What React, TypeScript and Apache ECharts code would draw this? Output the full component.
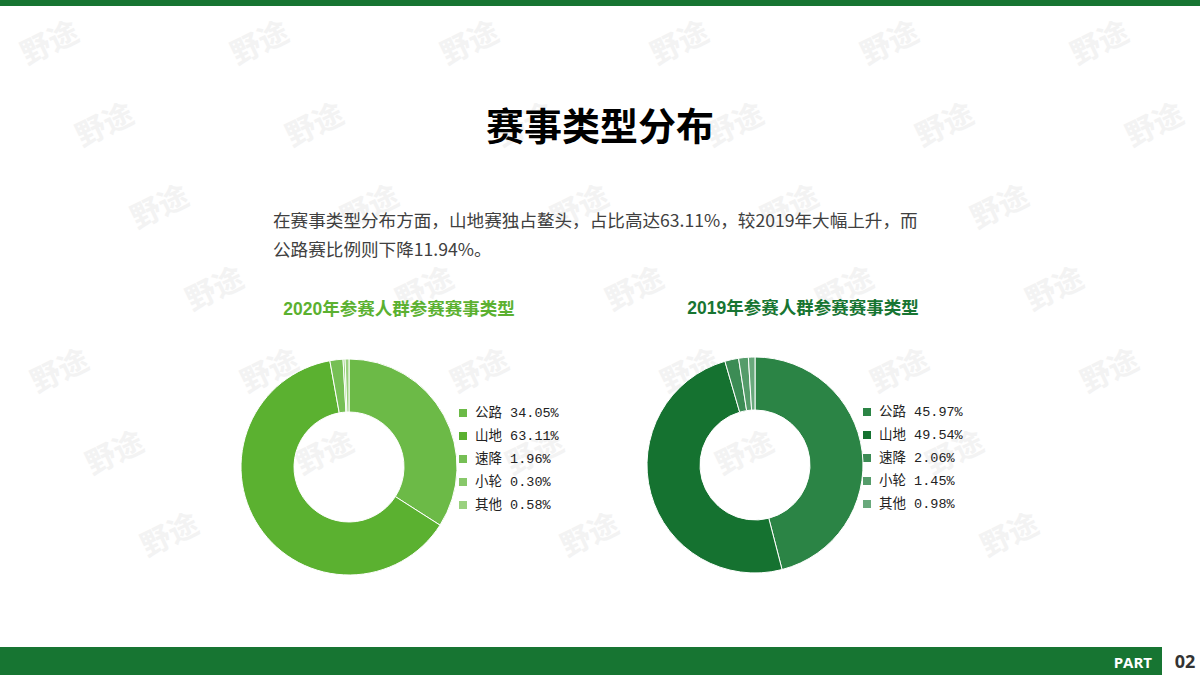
import React, { useEffect, useRef } from "react";
import * as echarts from "echarts";

const categories = ["公路", "山地", "速降", "小轮", "其他"];
const values2020 = [34.05, 63.11, 1.96, 0.3, 0.58];
const values2019 = [45.97, 49.54, 2.06, 1.45, 0.98];
const colors2020 = ["#6cba47", "#5bb130", "#76bf55", "#88c86a", "#9ad17f"];
const colors2019 = ["#2b8445", "#157230", "#3c8c55", "#559c6a", "#69a97c"];
const title = "赛事类型分布";
const subtitle2020 = "2020年参赛人群参赛赛事类型";
const subtitle2019 = "2019年参赛人群参赛赛事类型";
const paragraph = [
  "在赛事类型分布方面，山地赛独占鳌头，占比高达63.11%，较2019年大幅上升，而",
  "公路赛比例则下降11.94%。",
];

export default function App() {
  const ref = useRef<HTMLDivElement>(null);
  useEffect(() => {
    document.body.style.margin = "0";
    const chart = echarts.init(ref.current!, null, { renderer: "svg" });
    const data20 = categories.map((c, i) => ({ name: c, value: values2020[i], itemStyle: { color: colors2020[i] } }));
    const data19 = categories.map((c, i) => ({ name: c + " ", value: values2019[i], itemStyle: { color: colors2019[i] } }));
    const fmt = (vals: number[]) => (name: string) => {
      const idx = categories.indexOf(name.trim());
      return name.trim() + " " + vals[idx].toFixed(2) + "%";
    };

    const watermarks: any[] = [];
    for (let r = 0; r < 8; r++) {
      for (let c = -1; c < 7; c++) {
        const x = c * 210 + ((r * 55) % 210) + 15;
        const y = r * 82 + 40;
        if (x < 5 || x > 1120 || y > 610) continue;
        watermarks.push({
          type: "text",
          x,
          y,
          rotation: 0.45,
          z: 0,
          silent: true,
          style: { text: "野途", fill: "#f3f3f3", font: "bold 30px 'Noto Sans CJK SC'" },
        });
      }
    }

    const legendBase = {
      orient: "vertical",
      icon: "rect",
      itemWidth: 10,
      itemHeight: 10,
      itemGap: 9,
      selectedMode: false,
      padding: 0,
      textStyle: {
        fontFamily: "'Liberation Mono', 'Noto Sans CJK SC'",
        fontSize: 13.5,
        lineHeight: 14,
        color: "#222",
        padding: [0, 0, 0, 2],
      },
    };

    chart.setOption({
      animation: false,
      backgroundColor: "#fff",
      graphic: [
        ...watermarks,
        { type: "rect", shape: { x: 0, y: 0, width: 1200, height: 6 }, style: { fill: "#177532" }, z: 10 },
        { type: "rect", shape: { x: 0, y: 647, width: 1162, height: 28 }, style: { fill: "#177532" }, z: 10 },
        {
          type: "text", x: 1152, y: 662, z: 11,
          style: { text: "PART", fill: "#fff", font: "bold 15px 'Open Sans', sans-serif", align: "right", verticalAlign: "middle" },
        },
        {
          type: "text", x: 1185, y: 661, z: 11,
          style: { text: "02", fill: "#333", font: "bold 18px 'Open Sans', sans-serif", align: "center", verticalAlign: "middle" },
        },
        {
          type: "text", x: 600, y: 123, z: 11,
          style: { text: title, fill: "#000", font: "bold 38px 'Noto Sans CJK SC'", align: "center", verticalAlign: "middle" },
        },
        ...paragraph.map((t, i) => ({
          type: "text", x: 273, y: 219 + i * 29, z: 11,
          style: { text: t, fill: "#404040", font: "17.6px 'Noto Sans CJK SC'", align: "left", verticalAlign: "middle" },
        })),
        {
          type: "text", x: 399, y: 309, z: 11,
          style: { text: subtitle2020, fill: "#5bb130", font: "bold 17.5px 'Liberation Sans', 'Noto Sans CJK SC'", align: "center", verticalAlign: "middle" },
        },
        {
          type: "text", x: 803, y: 308, z: 11,
          style: { text: subtitle2019, fill: "#177532", font: "bold 17.5px 'Liberation Sans', 'Noto Sans CJK SC'", align: "center", verticalAlign: "middle" },
        },
      ],
      legend: [
        { ...legendBase, left: 457, top: 406, data: categories, formatter: fmt(values2020) },
        { ...legendBase, left: 861, top: 405, data: categories.map((c) => c + " "), formatter: fmt(values2019) },
      ],
      series: [
        {
          type: "pie",
          radius: [55, 108],
          center: [349, 467],
          startAngle: 90,
          label: { show: false },
          labelLine: { show: false },
          emphasis: { disabled: true },
          itemStyle: { borderColor: "#fff", borderWidth: 1 },
          data: data20,
          z: 5,
        },
        {
          type: "pie",
          radius: [55, 108],
          center: [755, 465],
          startAngle: 90,
          label: { show: false },
          labelLine: { show: false },
          emphasis: { disabled: true },
          itemStyle: { borderColor: "#fff", borderWidth: 1 },
          data: data19,
          z: 5,
        },
      ],
    });
    return () => chart.dispose();
  }, []);
  return <div ref={ref} style={{ position: "absolute", left: 0, top: 0, width: 1200, height: 675 }} />;
}
